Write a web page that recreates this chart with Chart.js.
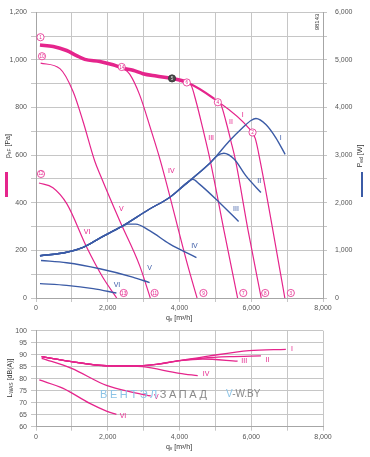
<!DOCTYPE html>
<html><head><meta charset="utf-8">
<script src="https://cdn.jsdelivr.net/npm/chart.js@4"></script>
<style>
html,body{margin:0;padding:0;background:#fff;}
body{width:370px;height:457px;position:relative;overflow:hidden;font-family:"Liberation Sans",Arial,sans-serif;}
canvas{position:absolute;left:0;}
.t{position:absolute;font-size:7px;color:#333;white-space:nowrap;line-height:8px;height:8px;}
.rot{transform:rotate(-90deg);transform-origin:center center;text-align:center;width:70px;}
.ctr{text-align:center;width:70px;}
sub{font-size:5px;vertical-align:-1px;line-height:0;}
sup{font-size:5px;vertical-align:2px;line-height:0;}
.wm{position:absolute;top:388px;font-size:11px;line-height:12px;letter-spacing:2.6px;white-space:nowrap;}
</style></head><body>
<canvas id="c1" width="370" height="320" style="top:0"></canvas>
<canvas id="c2" width="370" height="130" style="top:320px"></canvas>

<div class="t rot" style="left:-27px;top:142px;">p<sub>sF</sub> [Pa]</div>
<div style="position:absolute;left:5px;top:172px;width:2.5px;height:25px;background:#e5258c;"></div>
<div class="t rot" style="left:325px;top:152px;">P<sub>ed</sub> [W]</div>
<div style="position:absolute;left:360.5px;top:172px;width:2.5px;height:25px;background:#3b5ba6;"></div>
<div class="t ctr" style="left:144px;top:314px;">q<sub>v</sub> [m³/h]</div>
<div class="t rot" style="left:-25px;top:374px;">L<sub>WAS</sub> [dB(A)]</div>
<div class="t ctr" style="left:144px;top:443px;">q<sub>v</sub> [m³/h]</div>
<div class="t rot" style="left:282px;top:18px;font-size:6px;">98143</div>
<div class="wm" style="left:100px;"><span style="color:#8cc3e6">ВЕНТЭЛ</span><span style="color:#8a8a8a">ЗАПАД</span></div>
<div class="wm" style="left:226px;letter-spacing:0;font-size:10px;"><span style="color:#8cc3e6">V</span><span style="color:#8a8a8a">-W.BY</span></div>

<script>
// ---------- DATA ----------
// axis ticks
const xLabeled = [0, 2000, 4000, 6000, 8000];
const pLabeled = [0, 200, 400, 600, 800, 1000, 1200];
const wLabeled = [0, 1000, 2000, 3000, 4000, 5000, 6000];
const dbLabeled = [60, 65, 70, 75, 80, 85, 90, 95, 100];

// pressure curves (q in m3/h, p in Pa)
const pIQ   = [111, 481, 853, 1131, 1361, 1778, 2147, 2425, 2703, 2981, 3353, 3786, 4186, 4972, 5944, 6111, 6250, 6825, 6936];
const pIP   = [1062, 1056, 1039, 1018, 1002, 993, 979, 965, 956, 942, 932, 922, 907, 836, 711, 670, 574, 95, 0];
const pIIQ  = [4972, 5158, 5297, 5436, 5556, 5914, 6278];
const pIIP  = [836, 810, 740, 657, 582, 282, 0];
const pIIIQ = [4186, 4325, 4464, 4647, 4861, 5242, 5620];
const pIIIP = [907, 893, 824, 713, 574, 282, 0];
const pIVQ  = [2425, 2611, 2889, 3194, 3472, 4231, 4490];
const pIVP  = [965, 940, 853, 711, 574, 136, 0];
const pVQ   = [130, 667, 1036, 1314, 1639, 1806, 2333, 2889, 3186];
const pVP   = [986, 963, 866, 740, 574, 511, 324, 136, 0];
const pVIQ  = [83, 472, 861, 1417, 1861, 2250];
const pVIP  = [483, 463, 395, 212, 87, 0];

// power curves (W)
const wIQ   = [111, 853, 1314, 1778, 2381, 3167, 3722, 4278, 4881, 5389, 5758, 5992, 6131, 6408, 6686, 6944];
const wIW   = [886, 961, 1065, 1258, 1498, 1868, 2110, 2459, 2856, 3294, 3572, 3727, 3769, 3643, 3363, 3017];
const wIIQ  = [111, 853, 1314, 1778, 2381, 3167, 3722, 4278, 4881, 5056, 5236, 5528, 5853, 6270];
const wIIW  = [886, 961, 1065, 1258, 1498, 1868, 2110, 2459, 2856, 2990, 3040, 2912, 2563, 2214];
const wIIIQ = [111, 853, 1314, 1778, 2381, 3167, 3722, 4278, 4375, 4556, 5111, 5647];
const wIIIW = [886, 961, 1065, 1258, 1498, 1868, 2110, 2459, 2490, 2390, 2005, 1608];
const wIVQ  = [111, 853, 1314, 1778, 2381, 2556, 2778, 3167, 3722, 4472];
const wIVW  = [886, 961, 1065, 1258, 1498, 1550, 1550, 1414, 1136, 850];
const wVQ   = [139, 853, 1778, 2694, 3167];
const wVW   = [788, 740, 614, 439, 322];
const wVIQ  = [111, 853, 1592, 2241];
const wVIW  = [301, 265, 196, 104];

// curve labels (positioned in q / Pa units)
const lblText = ['I', 'II', 'III', 'IV', 'V', 'VI', 'I', 'II', 'III', 'IV', 'V', 'VI'];
const lblQ    = [5759, 5436, 4881, 3770, 2381, 1425, 6825, 6222, 5575, 4417, 3167, 2258];
const lblP    = [768, 738, 671, 532, 373, 275, 671, 490, 373, 220, 127, 53];
const lblKind = ['p', 'p', 'p', 'p', 'p', 'p', 'w', 'w', 'w', 'w', 'w', 'w'];

// operating point markers
const mkN = [1, 10, 12, 14, 5, 6, 4, 2, 13, 11, 9, 7, 8, 3];
const mkQ = [125, 167, 139, 2389, 3792, 4203, 5069, 6036, 2444, 3306, 4667, 5778, 6389, 7103];
const mkP = [1095, 1015, 521, 970, 922, 905, 822, 695, 21, 21, 21, 21, 21, 21];

// sound power curves (dB(A))
const dbIQ   = [158, 992, 1964, 2703, 3353, 4000, 4800, 5944, 6964];
const dbI    = [89.2, 87.1, 85.4, 85.3, 86.0, 87.5, 89.4, 91.7, 92.25];
const dbIIQ  = [158, 992, 1964, 2703, 3353, 4000, 4650, 5400, 6270];
const dbII   = [89.2, 87.1, 85.4, 85.3, 86.0, 87.5, 88.6, 89.2, 89.5];
const dbIIIQ = [158, 992, 1964, 2703, 3353, 4000, 4650, 5620];
const dbIII  = [89.2, 87.1, 85.4, 85.3, 86.0, 87.5, 88.2, 87.3];
const dbIVQ  = [158, 992, 1964, 2703, 2972, 4000, 4508];
const dbIV   = [89.2, 87.1, 85.4, 85.3, 85.0, 82.25, 81.25];
const dbVQ   = [158, 992, 1964, 2700, 3200];
const dbV    = [88.5, 84.3, 77.2, 74.3, 72.8];
const dbVIQ  = [92, 758, 1500, 1964, 2242];
const dbVI   = [79.5, 76.0, 69.7, 66.5, 65.1];

const dbLblText = ['I', 'II', 'III', 'IV', 'V', 'VI'];
const dbLblQ    = [7137, 6452, 5806, 4742, 3353, 2425];
const dbLblV    = [92.4, 87.8, 87.2, 81.9, 72.25, 64.6];

// ---------- STYLE / BUILD ----------
const PINK = '#e5258c', BLUE = '#3b5ba6', GRID = '#c6c6c6', AXIS = '#a6a6a6', TICK = '#555';
const F = '"Liberation Sans", Arial, sans-serif';
const fmt = v => Number(v).toLocaleString('en-US');
const pts = (q, v) => q.map((x, i) => ({x: x, y: v[i]}));
function ds(q, v, color, axis, extra) {
  return Object.assign({data: pts(q, v), borderColor: color, backgroundColor: color, borderWidth: 1.2,
    pointRadius: 0, showLine: true, fill: false, cubicInterpolationMode: 'monotone', yAxisID: axis}, extra || {});
}

const overlay = {
  id: 'overlay',
  afterDatasetsDraw(chart, args, o) {
    const c = chart.ctx, xs = chart.scales.x, ys = chart.scales.y;
    c.save();
    c.textAlign = 'center'; c.textBaseline = 'middle';
    (o.labels || []).forEach(l => {
      c.fillStyle = l.color; c.font = '7px ' + F;
      c.fillText(l.text, xs.getPixelForValue(l.q), ys.getPixelForValue(l.v));
    });
    (o.markers || []).forEach(m => {
      const x = xs.getPixelForValue(m.q), y = ys.getPixelForValue(m.v);
      const dark = m.n === 5;
      c.beginPath(); c.arc(x, y, 3.6, 0, Math.PI * 2);
      c.fillStyle = dark ? '#4a4a4a' : '#fff'; c.fill();
      c.lineWidth = 0.8; c.strokeStyle = dark ? '#333' : PINK; c.stroke();
      c.fillStyle = dark ? '#ddd' : PINK; c.font = '4.6px ' + F;
      c.fillText(String(m.n), x, y + 0.3);
    });
    c.restore();
  }
};

const tickFont = {size: 7, family: F};
const xScale = h => ({
  type: 'linear', min: 0, max: 8000,
  ticks: {stepSize: 1000, autoSkip: false, maxRotation: 0, color: TICK, font: tickFont, padding: 2,
    callback: v => xLabeled.includes(v) ? fmt(v) : ''},
  grid: {color: GRID, tickLength: 4, tickColor: GRID},
  border: {color: AXIS},
  afterFit: s => { s.height = h; }
});

new Chart(document.getElementById('c1'), {
  type: 'scatter',
  data: {datasets: [
    ds(wIQ, wIW, BLUE, 'y2', {borderWidth: 1.4}),
    ds(wIIQ, wIIW, BLUE, 'y2', {borderWidth: 1.4}),
    ds(wIIIQ, wIIIW, BLUE, 'y2', {borderWidth: 1.4}),
    ds(wIVQ, wIVW, BLUE, 'y2', {borderWidth: 1.4}),
    ds(wVQ, wVW, BLUE, 'y2', {borderWidth: 1.4}),
    ds(wVIQ, wVIW, BLUE, 'y2', {borderWidth: 1.4}),
    ds(pIQ, pIP, PINK, 'y', {segment: {borderWidth: s => s.p0.parsed.x < 4180 ? 3.6 : (s.p0.parsed.x < 4970 ? 2.4 : 1.2)}}),
    ds(pIIQ, pIIP, PINK, 'y'),
    ds(pIIIQ, pIIIP, PINK, 'y'),
    ds(pIVQ, pIVP, PINK, 'y'),
    ds(pVQ, pVP, PINK, 'y'),
    ds(pVIQ, pVIP, PINK, 'y')
  ]},
  options: {
    responsive: false, animation: false, events: [],
    layout: {padding: {top: 10.5, left: 0, right: 0, bottom: 0}},
    plugins: {
      legend: {display: false}, tooltip: {enabled: false},
      overlay: {
        labels: lblText.map((t, i) => ({text: t, q: lblQ[i], v: lblP[i], color: lblKind[i] === 'p' ? PINK : BLUE})),
        markers: mkN.map((n, i) => ({n: n, q: mkQ[i], v: mkP[i]}))
      }
    },
    scales: {
      x: xScale(22),
      y: {position: 'left', min: 0, max: 1200,
        ticks: {stepSize: 100, autoSkip: false, color: TICK, font: tickFont, padding: 4,
          callback: v => pLabeled.includes(v) ? fmt(v) : ''},
        grid: {color: GRID, tickLength: 5, tickColor: GRID}, border: {color: AXIS},
        afterFit: s => { s.width = 36; }},
      y2: {position: 'right', min: 0, max: 6000,
        ticks: {stepSize: 500, autoSkip: false, color: TICK, font: tickFont, padding: 8,
          callback: v => wLabeled.includes(v) ? fmt(v) : ''},
        grid: {drawOnChartArea: false, tickLength: 4, color: GRID}, border: {color: AXIS},
        afterFit: s => { s.width = 47; }}
    }
  },
  plugins: [overlay]
});

new Chart(document.getElementById('c2'), {
  type: 'scatter',
  data: {datasets: [
    ds(dbIQ, dbI, PINK, 'y', {borderWidth: 1.3}),
    ds(dbIIQ, dbII, PINK, 'y', {borderWidth: 1.3}),
    ds(dbIIIQ, dbIII, PINK, 'y', {borderWidth: 1.3}),
    ds(dbIVQ, dbIV, PINK, 'y', {borderWidth: 1.3}),
    ds(dbVQ, dbV, PINK, 'y', {borderWidth: 1.3}),
    ds(dbVIQ, dbVI, PINK, 'y', {borderWidth: 1.3})
  ]},
  options: {
    responsive: false, animation: false, events: [],
    layout: {padding: {top: 10.7, left: 0, right: 47, bottom: 0}},
    plugins: {
      legend: {display: false}, tooltip: {enabled: false},
      overlay: {labels: dbLblText.map((t, i) => ({text: t, q: dbLblQ[i], v: dbLblV[i], color: PINK}))}
    },
    scales: {
      x: xScale(23.3),
      y: {position: 'left', min: 60, max: 100,
        ticks: {stepSize: 5, autoSkip: false, color: TICK, font: tickFont, padding: 4,
          callback: v => dbLabeled.includes(v) ? String(v) : ''},
        grid: {color: GRID, tickLength: 5, tickColor: GRID}, border: {color: AXIS},
        afterFit: s => { s.width = 36; }}
    }
  },
  plugins: [overlay]
});
</script>
</body></html>
